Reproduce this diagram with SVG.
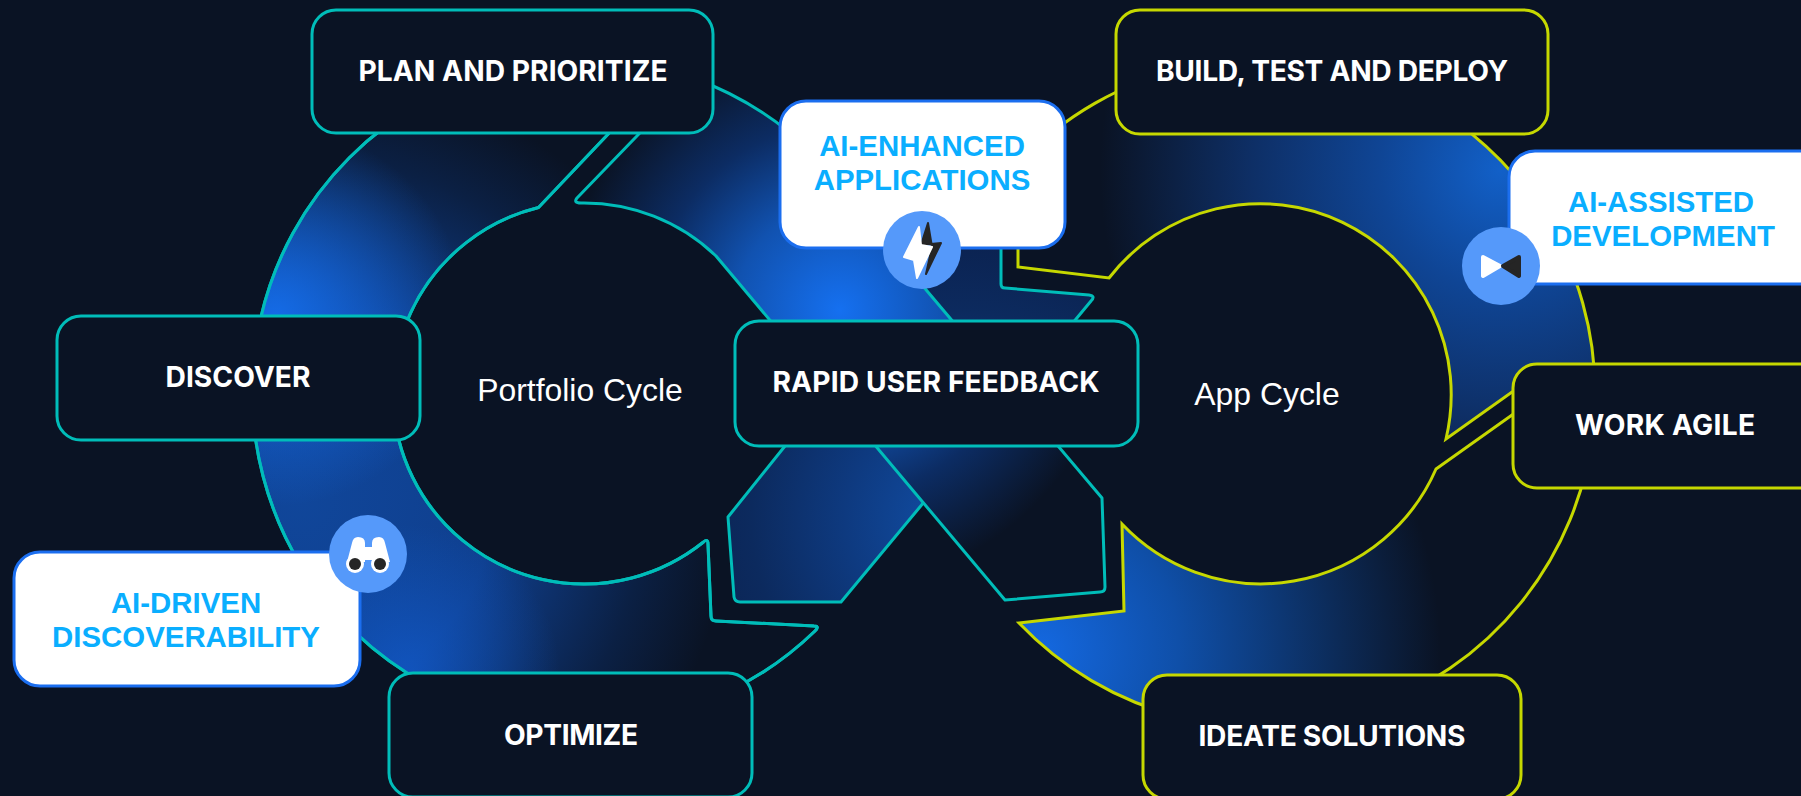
<svg xmlns="http://www.w3.org/2000/svg" xmlns:xlink="http://www.w3.org/1999/xlink" width="1801" height="796" viewBox="0 0 1801 796">
<style>
.t{stroke:#00bdb9;stroke-width:3;stroke-linejoin:round}
.y{stroke:#c6d800;stroke-width:3;stroke-linejoin:miter;stroke-miterlimit:10}
.tb{fill:#0a1324;stroke:#00bdb9;stroke-width:3}
.yb{fill:#0a1324;stroke:#c6d800;stroke-width:3}
.ab{fill:#fff;stroke:#1b6eef;stroke-width:3}
.lb{font-family:Inter,"Liberation Sans",sans-serif;font-weight:700;font-size:28.2px;fill:#fff;text-anchor:middle}
.al{font-family:"Liberation Sans",Arial,sans-serif;font-weight:700;font-size:29.4px;fill:#0aaeff;text-anchor:middle}
.cy{font-family:"Liberation Sans",Arial,sans-serif;font-size:31.9px;fill:#fff;text-anchor:middle}
.ic{fill:#5599fa}
.w{fill:#fff;stroke:#fff;stroke-width:2;stroke-linejoin:round}
.k{fill:#252525;stroke:#252525;stroke-width:2;stroke-linejoin:round}
</style>
<defs>
<radialGradient id="gA" gradientUnits="userSpaceOnUse" cx="840" cy="310" r="300"><stop offset="0" stop-color="#1570f0"/><stop offset=".35" stop-color="#1152b0"/><stop offset=".62" stop-color="#0c2c63"/><stop offset=".92" stop-color="#0a1324"/></radialGradient>
<radialGradient id="gC" gradientUnits="userSpaceOnUse" cx="960" cy="520" r="380"><stop offset="0" stop-color="#114fa8"/><stop offset=".3" stop-color="#0e3a80"/><stop offset=".55" stop-color="#0c2a5e"/><stop offset=".75" stop-color="#0b2250"/><stop offset="1" stop-color="#0a1a3a"/></radialGradient>
<radialGradient id="gB" gradientUnits="userSpaceOnUse" cx="300" cy="500" r="430"><stop offset="0" stop-color="#10469a"/><stop offset=".45" stop-color="#0f3f8e"/><stop offset=".8" stop-color="#0b2044"/><stop offset="1" stop-color="#0a1324"/></radialGradient>
<radialGradient id="gB1" gradientUnits="userSpaceOnUse" cx="276" cy="316" r="190"><stop offset="0" stop-color="#1570f0" stop-opacity=".9"/><stop offset="1" stop-color="#1570f0" stop-opacity="0"/></radialGradient>
<radialGradient id="gB2" gradientUnits="userSpaceOnUse" cx="410" cy="675" r="150"><stop offset="0" stop-color="#1260d8" stop-opacity=".65"/><stop offset="1" stop-color="#1260d8" stop-opacity="0"/></radialGradient>
<radialGradient id="gY1" gradientUnits="userSpaceOnUse" cx="1500" cy="170" r="400"><stop offset="0" stop-color="#1260c8"/><stop offset=".3" stop-color="#0f4595"/><stop offset=".62" stop-color="#0e2f66"/><stop offset="1" stop-color="#0a1324"/></radialGradient>
<radialGradient id="gY2" gradientUnits="userSpaceOnUse" cx="1040" cy="650" r="400"><stop offset="0" stop-color="#1468e0"/><stop offset=".35" stop-color="#0f4fa8"/><stop offset="1" stop-color="#0a1324"/></radialGradient>
<path id="pB" d="M538.5,207.5 L668,71 A332,332 0 1 0 815,631 Q820,626 814,626 L716,621 Q711,621 711,616 L708,544 Q708,538 703.5,542 A191,191 0 1 1 538.5,207.5 Z"/>
</defs>
<rect width="1801" height="796" fill="#0a1324"/>
<g id="connectors">
<path class="t" fill="url(#gC)" d="M728,517 L734,597 Q735,602 740,602 L841,602 L1091,301 Q1096,296 1089,295 L1005,288 Q1001,288 1001,284 L1001,200 L870,200 L860,300 L785,446 Z"/>
<g id="band-portfolio-main"><use xlink:href="#pB" href="#pB" class="t" fill="url(#gB)"/><use xlink:href="#pB" href="#pB" fill="url(#gB1)"/><use xlink:href="#pB" href="#pB" fill="url(#gB2)"/><use xlink:href="#pB" href="#pB" class="t" fill="none"/></g>
<path class="t" fill="url(#gA)" d="M581,203 A191,191 0 0 1 716,256 L1005,600 L1100,592 Q1105,592 1105,587 L1102,498 L862,214 A332,332 0 0 0 693,78 L577,198 Q573,203 581,203 Z"/>
<path class="y" fill="url(#gY1)" d="M1446,439 A191,191 0 0 0 1109,278 L1018,267 L1018,164 A334,334 0 0 1 1595,400 L1512,392 Z"/>
<path class="y" fill="url(#gY2)" d="M1019,623 L1124,611 L1122,524 A191,191 0 0 0 1436,469 L1512,415 L1560,470 L1593,430 A334,334 0 0 1 1019,623 Z"/>
</g>
<g id="plan"><rect class="tb" x="312" y="10" width="401" height="123" rx="24"/><text class="lb" x="513" y="81" textLength="309">PLAN AND PRIORITIZE</text></g>
<g id="build"><rect class="yb" x="1116" y="10" width="432" height="124" rx="24"/><text class="lb" x="1332" y="81" textLength="352">BUILD, TEST AND DEPLOY</text></g>
<g id="discover"><rect class="tb" x="57" y="316" width="363" height="124" rx="24"/><text class="lb" x="238" y="387">DISCOVER</text></g>
<g id="rapid"><rect class="tb" x="735" y="321" width="403" height="125" rx="24"/><text class="lb" x="936" y="392" textLength="327">RAPID USER FEEDBACK</text></g>
<g id="work"><rect class="yb" x="1513" y="364" width="320" height="124" rx="24"/><text class="lb" x="1665" y="435" textLength="180">WORK AGILE</text></g>
<g id="optimize"><rect class="tb" x="389" y="673" width="363" height="124" rx="24"/><text class="lb" x="571" y="745" textLength="134">OPTIMIZE</text></g>
<g id="ideate"><rect class="yb" x="1143" y="675" width="378" height="124" rx="24"/><text class="lb" x="1332" y="746" textLength="267">IDEATE SOLUTIONS</text></g>
<g id="ai-enhanced"><rect class="ab" x="780" y="101" width="285" height="147" rx="26"/><text class="al" x="922" y="156">AI-ENHANCED</text><text class="al" x="922" y="190">APPLICATIONS</text>
<circle class="ic" cx="922" cy="250" r="39"/><path class="k" d="M928,223 L921,245 L941,243 L926,274 L932,247 Z"/><path class="w" d="M919,227 L904,257 L914,260 L917,278 L932,247 L921,245 Z"/></g>
<g id="ai-assisted"><rect class="ab" x="1509" y="151" width="320" height="133" rx="26"/><text class="al" x="1661" y="212">AI-ASSISTED</text><text class="al" x="1663" y="246">DEVELOPMENT</text>
<circle class="ic" cx="1501" cy="266" r="39"/><path class="w" style="stroke-width:4" d="M1483,257 L1500,266 L1483,276 Z"/><path class="k" style="stroke-width:4" d="M1519,257 L1503,266 L1519,276 Z"/></g>
<g id="ai-driven"><rect class="ab" x="14" y="552" width="346" height="134" rx="26"/><text class="al" x="186" y="613">AI-DRIVEN</text><text class="al" x="186" y="647">DISCOVERABILITY</text>
<circle class="ic" cx="368" cy="554" r="39"/><path fill="#fff" d="M347,562 L352,543 Q353,537 358,537 Q365,537 365,543 L365,547 L372,547 L372,543 Q372,537 379,537 Q384,537 385,543 L390,562 L372,562 L372,560 L365,560 L365,562 Z"/><circle cx="355" cy="564" r="9" fill="#fff"/><circle cx="380" cy="564" r="9" fill="#fff"/><circle cx="355" cy="564" r="6" fill="#252525"/><circle cx="380" cy="564" r="6" fill="#252525"/></g>
<g id="portfolio-cycle"><text class="cy" x="580" y="401">Portfolio Cycle</text></g>
<g id="app-cycle"><text class="cy" x="1267" y="405">App Cycle</text></g>
</svg>
